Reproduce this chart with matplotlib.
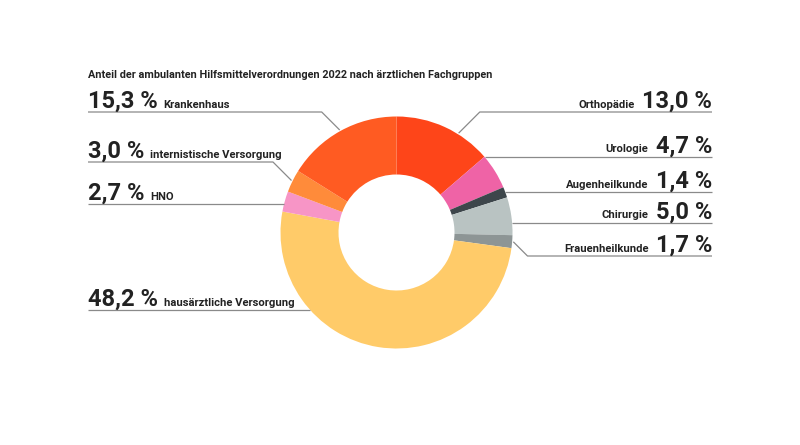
import numpy as np
import matplotlib
matplotlib.use("Agg")
import matplotlib.pyplot as plt

plt.rcParams['font.family'] = ['Roboto', 'DejaVu Sans']

title = "Anteil der ambulanten Hilfsmittelverordnungen 2022 nach ärztlichen Fachgruppen"

# slices, clockwise from the top
groups = ["Orthopädie", "Urologie", "Augenheilkunde", "Chirurgie", "Frauenheilkunde",
          "hausärztliche Versorgung", "HNO", "internistische Versorgung", "Krankenhaus"]
shares = [13.0, 4.7, 1.4, 5.0, 1.7, 48.2, 2.7, 3.0, 15.3]
colors = ["#fe4519", "#ef63a6", "#3d464b", "#b9c3c2", "#8d9595",
          "#ffcb69", "#f795c6", "#ff8b3a", "#ff5b22"]

# label layout: side and y of the underline (pixels from top)
side = ["r", "r", "r", "r", "r", "l", "l", "l", "l"]
line_y = [112, 157, 192, 223, 256, 310, 204, 162, 112]

W, H = 800, 445
fig = plt.figure(figsize=(8, 4.45), dpi=100)
ax = fig.add_axes([0, 0, 1, 1])

cx, cy, R = 396.5, H - 232.5, 116
wedges, _ = ax.pie(shares, colors=colors, startangle=90, counterclock=False,
                   radius=R, center=(cx, cy), wedgeprops=dict(width=R * 0.5, linewidth=0))
ax.set_xlim(0, W)
ax.set_ylim(0, H)
ax.set_aspect('equal')
ax.axis('off')

txt = "#222222"
lc = "#8a8a8a"
ax.text(88, H - 78, title, fontsize=7.85, fontweight='bold', color=txt, va='baseline')

fig.canvas.draw()
rend = fig.canvas.get_renderer()
inv = ax.transData.inverted()

for w, g, v, s, ly in zip(wedges, groups, shares, side, line_y):
    y = H - ly
    t1, t2 = w.theta1, w.theta2
    # does a horizontal line at y hit the slice edge?
    sn = (y - cy) / R
    hit = None
    if abs(sn) <= 1:
        a = np.degrees(np.arcsin(sn))
        cands = [a, 180 - a] if s == "r" else [180 - a, a]
        for c in cands:
            for k in (-360, 0, 360):
                if t1 <= c + k <= t2 and ((s == "r") == (np.cos(np.radians(c)) > 0)):
                    hit = c
                    break
            if hit is not None:
                break
    if hit is not None:
        ax_x = cx + R * np.cos(np.radians(hit))
        xs, ys = [ax_x], [y]
        knee = ax_x
    else:
        # first slice points a bit further round, like the original
        frac = 0.35 if g == "Orthopädie" else 0.5
        mid = np.radians(t1 + (t2 - t1) * frac)
        px, py = cx + R * 1.01 * np.cos(mid), cy + R * 1.01 * np.sin(mid)
        d = abs(y - py)
        knee = px + d if s == "r" else px - d
        xs, ys = [px, knee], [py, y]
    val = f"{v:.1f}".replace(".", ",") + " %"
    if s == "r":
        ax.plot(xs + [712], ys + [y], color=lc, lw=0.9, solid_capstyle='butt')
        tv = ax.text(712, y + 4.5, val, fontsize=17, fontweight='bold', color=txt,
                     ha='right', va='baseline')
        bb = tv.get_window_extent(rend)
        x0 = inv.transform((bb.x0, 0))[0]
        ax.text(x0 - 7, y + 4.5, g, fontsize=8.1, fontweight='bold', color=txt,
                ha='right', va='baseline')
    else:
        ax.plot([88, knee] + xs[::-1][1:] if len(xs) > 1 else [88] + xs,
                [y, y] + ys[::-1][1:] if len(ys) > 1 else [y] + ys,
                color=lc, lw=0.9, solid_capstyle='butt')
        tv = ax.text(88, y + 4.5, val, fontsize=17, fontweight='bold', color=txt,
                     ha='left', va='baseline')
        bb = tv.get_window_extent(rend)
        x1 = inv.transform((bb.x1, 0))[0]
        ax.text(x1 + 6, y + 4.5, g, fontsize=8.1, fontweight='bold', color=txt,
                ha='left', va='baseline')

fig.savefig("out.png", dpi=100, facecolor="white")
